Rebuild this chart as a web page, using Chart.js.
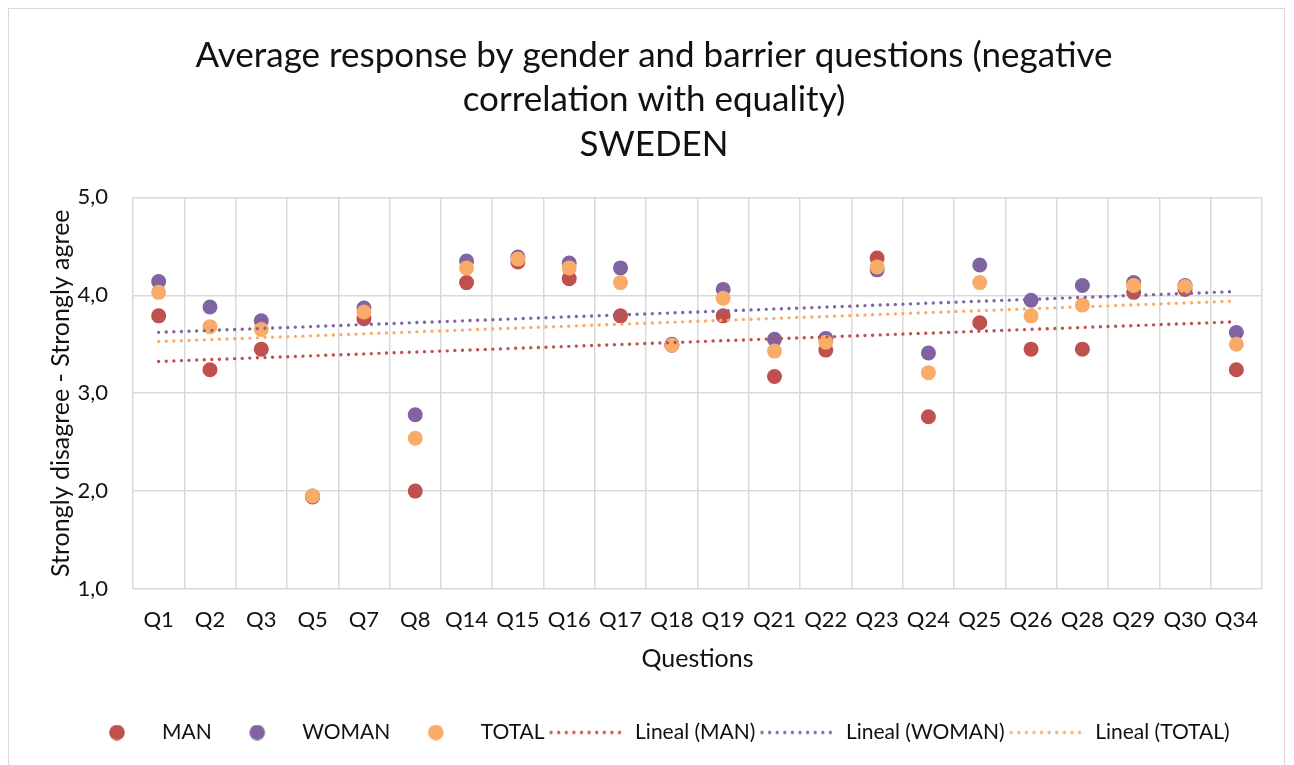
<!DOCTYPE html>
<html>
<head>
<meta charset="utf-8">
<script src="https://cdn.jsdelivr.net/npm/chart.js@4.4.1/dist/chart.umd.min.js"></script>
<style>
  html, body { margin: 0; padding: 0; background: #fff; }
  #wrap { position: relative; width: 1294px; height: 765px; }
  #frame { position: absolute; left: 8px; top: 8px; width: 1277px; height: 770px; border: 1px solid #d9d9d9; box-sizing: border-box; }
  #chart { position: absolute; left: 0; top: 0; }
</style>
</head>
<body>
<div id="wrap">
  <div id="frame"></div>
  <canvas id="chart" width="1294" height="765"></canvas>
</div>
<script>
// categories and values
const questions = ["Q1", "Q2", "Q3", "Q5", "Q7", "Q8", "Q14", "Q15", "Q16", "Q17", "Q18",
                   "Q19", "Q21", "Q22", "Q23", "Q24", "Q25", "Q26", "Q28", "Q29", "Q30", "Q34"];
const man   = [3.79, 3.24, 3.45, 1.94, 3.76, 2.00, 4.13, 4.34, 4.17, 3.79, 3.49,
               3.79, 3.17, 3.44, 4.38, 2.76, 3.72, 3.45, 3.45, 4.03, 4.06, 3.24];
const woman = [4.14, 3.88, 3.74, 1.95, 3.87, 2.78, 4.35, 4.39, 4.33, 4.28, 3.50,
               4.06, 3.55, 3.56, 4.26, 3.41, 4.31, 3.95, 4.10, 4.13, 4.10, 3.62];
const total = [4.03, 3.68, 3.65, 1.95, 3.83, 2.54, 4.28, 4.37, 4.28, 4.13, 3.49,
               3.97, 3.43, 3.52, 4.29, 3.21, 4.13, 3.79, 3.90, 4.10, 4.09, 3.50];
const yTicks = [1, 2, 3, 4, 5];

const colMan = '#C0504D';
const colWoman = '#8064A2';
const colTotal = '#F9AC68';

// least squares line, like Excel's linear trendline
function trend(values) {
  const n = values.length;
  let sx = 0, sy = 0, sxy = 0, sxx = 0;
  values.forEach((v, i) => { sx += i; sy += v; sxy += i * v; sxx += i * i; });
  const b = (n * sxy - sx * sy) / (n * sxx - sx * sx);
  const a = (sy - b * sx) / n;
  return values.map((v, i) => a + b * i);
}

// legend symbols: same width for all, shifted right so the text sits close
function symbol(color, dotted) {
  const c = document.createElement('canvas');
  c.width = 86; c.height = 16;
  const g = c.getContext('2d');
  g.fillStyle = color;
  if (dotted) {
    for (let x = 6; x < 81; x += 7.6) {
      g.beginPath(); g.arc(x, 8, 1.7, 0, Math.PI * 2); g.fill();
    }
  } else {
    g.beginPath(); g.arc(45, 8, 7.8, 0, Math.PI * 2); g.fill();
  }
  return c;
}

const legendSymbols = [
  symbol(colMan, false), symbol(colWoman, false), symbol(colTotal, false),
  symbol(colMan, true), symbol(colWoman, true), symbol(colTotal, true)
];

function points(label, data, color, order) {
  return {
    label: label, data: data, showLine: false, order: order,
    pointRadius: 7.5, pointHoverRadius: 7.5, pointBorderWidth: 0,
    pointBackgroundColor: color, borderColor: color, backgroundColor: color
  };
}

function trendLine(label, data, color) {
  return {
    label: label, data: trend(data), order: 0,
    borderColor: color, backgroundColor: color,
    borderWidth: 3.4, borderDash: [0, 7.6], borderCapStyle: 'round',
    pointRadius: 0, pointHoverRadius: 0, tension: 0
  };
}

const font = "Lato, 'Open Sans', sans-serif";
const ink = '#111';

new Chart("chart", {
  type: "line",
  data: {
    labels: questions,
    datasets: [
      points("MAN", man, colMan, 3),
      points("WOMAN", woman, colWoman, 2),
      points("TOTAL", total, colTotal, 1),
      trendLine("Lineal (MAN)", man, colMan),
      trendLine("Lineal (WOMAN)", woman, colWoman),
      trendLine("Lineal (TOTAL)", total, colTotal)
    ]
  },
  options: {
    responsive: false,
    animation: false,
    layout: { padding: { top: 18, left: 46, right: 32, bottom: 12 } },
    plugins: {
      tooltip: { enabled: false },
      title: {
        display: true,
        text: ["Average response by gender and barrier questions (negative",
               "correlation with equality)", "SWEDEN"],
        color: ink,
        font: { family: font, size: 35, weight: 'normal', lineHeight: 1.28 },
        padding: { top: 15, bottom: 30 }
      },
      legend: {
        position: 'bottom',
        labels: {
          usePointStyle: true,
          pointStyleWidth: 73,
          boxHeight: 16,
          padding: 7,
          color: ink,
          font: { family: font, size: 21 },
          sort: (a, b) => a.datasetIndex - b.datasetIndex,
          generateLabels: (chart) => {
            const items = Chart.defaults.plugins.legend.labels.generateLabels(chart);
            items.forEach((it) => { it.pointStyle = legendSymbols[it.datasetIndex]; });
            return items;
          }
        }
      }
    },
    scales: {
      x: {
        offset: true,
        afterFit: (axis) => { axis.height = 126; },
        grid: { offset: true, color: '#d9d9d9', lineWidth: 1.5, drawTicks: false },
        border: { display: false },
        ticks: { color: ink, padding: 18, font: { family: font, size: 22 } },
        title: {
          display: true, text: 'Questions', color: ink,
          font: { family: font, size: 25 }, padding: { top: 4, bottom: 41 }
        }
      },
      y: {
        min: 1, max: 5,
        afterBuildTicks: (axis) => { axis.ticks = yTicks.map(v => ({ value: v })); },
        afterFit: (axis) => { axis.width = 87; },
        grid: { color: '#d9d9d9', lineWidth: 1.5, drawTicks: false },
        border: { display: false },
        ticks: {
          color: ink, padding: 25, font: { family: font, size: 22 },
          callback: (v) => v.toFixed(1).replace('.', ',')
        },
        title: {
          display: true, text: 'Strongly disagree - Strongly agree', color: ink,
          font: { family: font, size: 25 }, padding: { top: 0, bottom: 4 }
        }
      }
    }
  }
});
</script>
</body>
</html>
